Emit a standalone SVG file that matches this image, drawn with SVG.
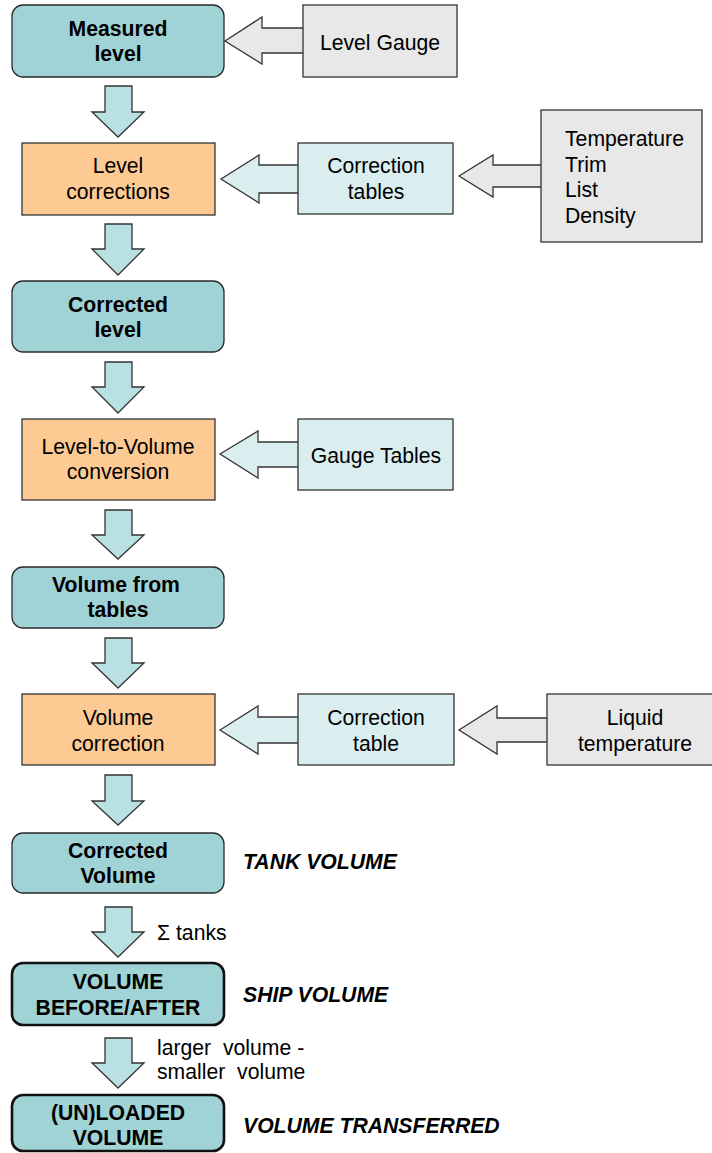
<svg xmlns="http://www.w3.org/2000/svg" width="712" height="1153" viewBox="0 0 712 1153">
<style>
text{font-family:"Liberation Sans",Arial,sans-serif;font-size:21.2px;fill:#000;text-anchor:middle}
.b{font-weight:bold}
.bi{font-weight:bold;font-style:italic;text-anchor:start}
.l{text-anchor:start}
.teal{fill:#a0d3d6;stroke:#2a2a2a;stroke-width:1.3}
.teal2{fill:#a0d3d6;stroke:#111;stroke-width:2.6}
.org{fill:#fdca93;stroke:#333;stroke-width:1.3}
.pale{fill:#daedef;stroke:#333;stroke-width:1.3}
.gray{fill:#e8e8e8;stroke:#333;stroke-width:1.3}
.darr{fill:#b9e0e2;stroke:#333;stroke-width:1.3;stroke-linejoin:miter}
.larr-p{fill:#daedef;stroke:#333;stroke-width:1.3}
.larr-g{fill:#e8e8e8;stroke:#333;stroke-width:1.3}
</style>
<rect width="712" height="1153" fill="#fff"/>
<g id="connectors">
<polygon class="darr" points="105,86 132,86 132,112 144,112 118,137 92,112 105,112"/>
<polygon class="darr" points="105,224 132,224 132,249 144,249 118,275 92,249 105,249"/>
<polygon class="darr" points="105,362 132,362 132,387 144,387 118,413 92,387 105,387"/>
<polygon class="darr" points="105,510 132,510 132,535 144,535 118,559 92,535 105,535"/>
<polygon class="darr" points="105,638 132,638 132,663 144,663 118,688 92,663 105,663"/>
<polygon class="darr" points="105,775 132,775 132,801 144,801 118,825 92,801 105,801"/>
<polygon class="darr" points="105,907 132,907 132,932 144,932 118,957 92,932 105,932"/>
<polygon class="darr" points="105,1038 132,1038 132,1063 144,1063 118,1088 92,1063 105,1063"/>
<polygon class="larr-g" points="225,41 262,17 262,28 304,28 304,53 262,53 262,64"/>
<polygon class="larr-p" points="221,179 259,155 259,165 299,165 299,193 259,193 259,203"/>
<polygon class="larr-g" points="459,176 493,155 493,165 542,165 542,187 493,187 493,197"/>
<polygon class="larr-p" points="220,454 258,431 258,442 299,442 299,467 258,467 258,478"/>
<polygon class="larr-p" points="220,730 258,706 258,717 299,717 299,743 258,743 258,754"/>
<polygon class="larr-g" points="459,730 497,706 497,718 548,718 548,742 497,742 497,754"/>
<text class="l" x="157" y="940">Σ tanks</text>
<text class="l" x="157" y="1055" xml:space="preserve">larger  volume -</text>
<text class="l" x="157" y="1079" xml:space="preserve">smaller  volume</text>
</g>
<g id="n-measured">
<rect class="teal" x="12" y="5" width="212" height="72" rx="11"/>
<text class="b" x="118" y="36">Measured</text>
<text class="b" x="118" y="61">level</text>
</g>
<g id="n-levelgauge">
<rect class="gray" x="303" y="5" width="154" height="72"/>
<text x="380" y="50">Level Gauge</text>
</g>
<g id="n-levelcorr">
<rect class="org" x="22" y="143" width="193" height="72"/>
<text x="118" y="173">Level</text>
<text x="118" y="199">corrections</text>
</g>
<g id="n-corrtables">
<rect class="pale" x="298" y="143" width="155" height="71"/>
<text x="376" y="173">Correction</text>
<text x="376" y="199">tables</text>
</g>
<g id="n-params">
<rect class="gray" x="541" y="110" width="161" height="132"/>
<text class="l" x="565" y="146">Temperature</text>
<text class="l" x="565" y="172">Trim</text>
<text class="l" x="565" y="197">List</text>
<text class="l" x="565" y="223">Density</text>
</g>
<g id="n-correctedlevel">
<rect class="teal" x="12" y="281" width="212" height="71" rx="11"/>
<text class="b" x="118" y="312">Corrected</text>
<text class="b" x="118" y="337">level</text>
</g>
<g id="n-l2v">
<rect class="org" x="22" y="419" width="193" height="81"/>
<text x="118" y="454">Level-to-Volume</text>
<text x="118" y="479">conversion</text>
</g>
<g id="n-gaugetables">
<rect class="pale" x="298" y="419" width="155" height="71"/>
<text x="376" y="463">Gauge Tables</text>
</g>
<g id="n-volfromtables">
<rect class="teal" x="12" y="567" width="212" height="61" rx="11"/>
<text class="b" x="116" y="592">Volume from</text>
<text class="b" x="118" y="617">tables</text>
</g>
<g id="n-volcorr">
<rect class="org" x="22" y="694" width="193" height="71"/>
<text x="118" y="725">Volume</text>
<text x="118" y="751">correction</text>
</g>
<g id="n-corrtable">
<rect class="pale" x="298" y="694" width="156" height="71"/>
<text x="376" y="725">Correction</text>
<text x="376" y="751">table</text>
</g>
<g id="n-liquidtemp">
<rect class="gray" x="547" y="694" width="168" height="71"/>
<text x="635" y="725">Liquid</text>
<text x="635" y="751">temperature</text>
</g>
<g id="n-correctedvolume">
<rect class="teal" x="12" y="833" width="212" height="60" rx="11"/>
<text class="b" x="118" y="858">Corrected</text>
<text class="b" x="118" y="883">Volume</text>
</g>
<g id="n-tankvolume"><text class="bi" x="243" y="869">TANK VOLUME</text></g>
<g id="n-beforeafter">
<rect class="teal2" x="12" y="963" width="212" height="62" rx="11"/>
<text class="b" x="118" y="989">VOLUME</text>
<text class="b" x="118" y="1015">BEFORE/AFTER</text>
</g>
<g id="n-shipvolume"><text class="bi" x="243" y="1002">SHIP VOLUME</text></g>
<g id="n-unloaded">
<rect class="teal2" x="12" y="1095" width="212" height="56" rx="11"/>
<text class="b" x="118" y="1120">(UN)LOADED</text>
<text class="b" x="118" y="1145">VOLUME</text>
</g>
<g id="n-transferred"><text class="bi" x="243" y="1133">VOLUME TRANSFERRED</text></g>
</svg>
